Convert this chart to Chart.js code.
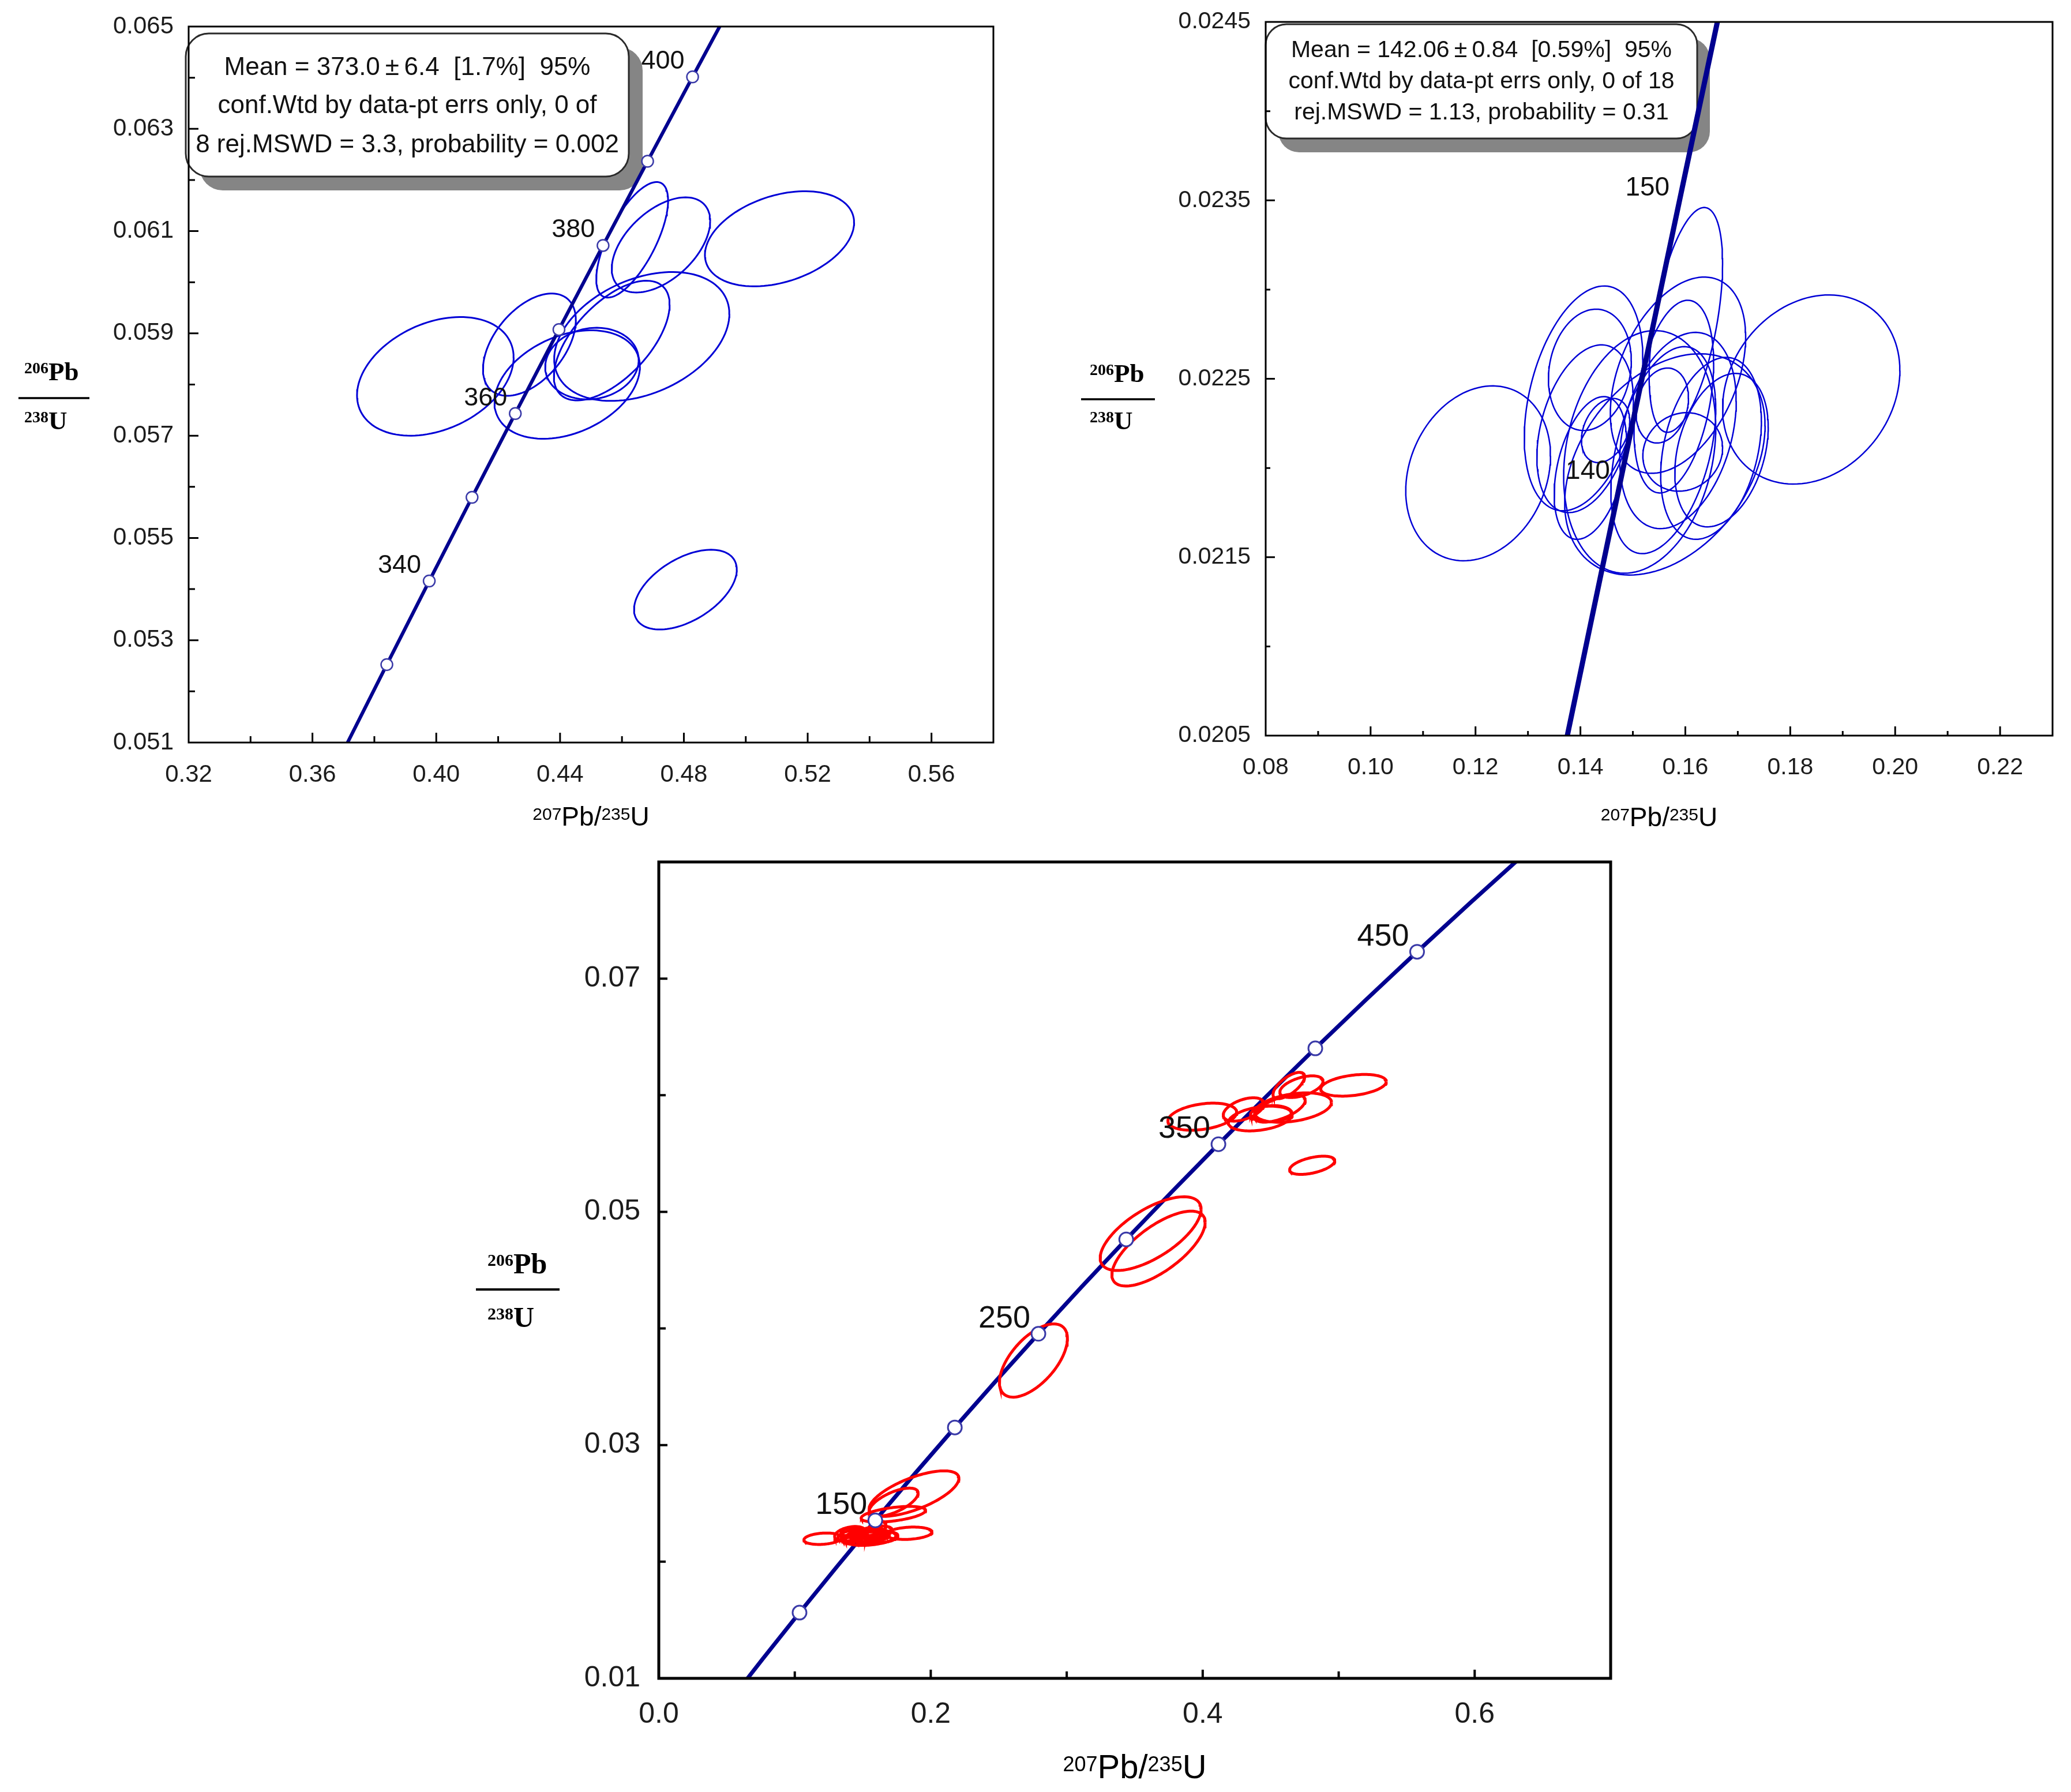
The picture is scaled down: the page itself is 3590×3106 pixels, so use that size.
<!DOCTYPE html>
<html>
<head>
<meta charset="utf-8">
<script src="https://cdn.jsdelivr.net/npm/chart.js@4.4.1/dist/chart.umd.min.js"></script>
<style>
  html, body { margin: 0; padding: 0; background: #fff; }
  body { width: 3590px; height: 3106px; position: relative; overflow: hidden; }
  canvas { position: absolute; }
</style>
</head>
<body>
<canvas id="cLeft"  width="1760" height="1460" style="left:0px;top:0px"></canvas>
<canvas id="cRight" width="1790" height="1460" style="left:1800px;top:0px"></canvas>
<canvas id="cAll"   width="2100" height="1646" style="left:800px;top:1460px"></canvas>
<script>
// decay constants (per year) used for the concordia curve
const L238 = 1.55125e-10, L235 = 9.8485e-10;

// --- upper left: 207Pb/235U, 206Pb/238U, half-widths and error correlation
const leftX   = [0.3997, 0.4301, 0.4423, 0.4503, 0.4567, 0.4664, 0.4633, 0.4726, 0.5109, 0.4805];
const leftY   = [0.05816, 0.05878, 0.05800, 0.05841, 0.05886, 0.05894, 0.06083, 0.06073, 0.06085, 0.05399];
const leftSx  = [0.0253, 0.0150, 0.0235, 0.0151, 0.0187, 0.0283, 0.0116, 0.0159, 0.0241, 0.0166];
const leftSy  = [0.00116, 0.00100, 0.00106, 0.00070, 0.00117, 0.00126, 0.00113, 0.00093, 0.00093, 0.00078];
const leftRho = [0.32, 0.48, 0.33, 0.10, 0.60, 0.35, 0.68, 0.50, 0.34, 0.50];
const leftLineAges  = [310, 320, 330, 340, 350, 360, 370, 380, 390, 400, 410, 420];
const leftMarkAges  = [330, 340, 350, 360, 370, 380, 390, 400];
const leftLabelAges = [340, 360, 380, 400];
const leftNote = ['Mean = 373.0\u2009\u00b1\u20096.4  [1.7%]  95%',
                  'conf.Wtd by data-pt errs only, 0 of',
                  '8 rej.MSWD = 3.3, probability = 0.002'];

// --- upper right
const rightX   = [0.1205, 0.1840, 0.1601, 0.1406, 0.1418, 0.1409, 0.1419, 0.1513, 0.1561,
                  0.1586, 0.1556, 0.1595, 0.1649, 0.1669, 0.1586, 0.1578, 0.1558, 0.1448];
const rightY   = [0.02197, 0.02244, 0.02283, 0.02239, 0.02255, 0.02222, 0.02200, 0.02209, 0.02202,
                  0.02252, 0.02235, 0.02209, 0.02211, 0.02210, 0.02221, 0.02240, 0.02210, 0.02221];
const rightSx  = [0.0138, 0.0169, 0.0070, 0.0113, 0.0079, 0.0092, 0.0069, 0.0145, 0.0191,
                  0.0129, 0.0050, 0.0076, 0.0096, 0.0089, 0.0111, 0.0076, 0.0100, 0.0046];
const rightSy  = [0.00049, 0.00053, 0.00063, 0.00063, 0.00034, 0.00047, 0.00040, 0.00068, 0.00062,
                  0.00055, 0.00021, 0.00022, 0.00051, 0.00043, 0.00055, 0.00054, 0.00058, 0.00018];
const rightRho = [0.20, 0.20, 0.50, 0.35, 0.15, 0.34, 0.37, 0.20, 0.35,
                  0.39, 0.20, 0.10, 0.30, 0.30, 0.30, 0.35, 0.40, 0.30];
const rightLineAges  = [125, 130, 135, 140, 145, 150, 155, 160];
const rightLabelAges = [140, 150];
const rightNote = ['Mean = 142.06\u2009\u00b1\u20090.84  [0.59%]  95%',
                   'conf.Wtd by data-pt errs only, 0 of 18',
                   'rej.MSWD = 1.13, probability = 0.31'];

// --- lower panel: all grains (the two sets above plus these)
const extraX   = [0.2755, 0.3617, 0.3675, 0.1877, 0.1727, 0.1725];
const extraY   = [0.03725, 0.04813, 0.04685, 0.02584, 0.02510, 0.02407];
const extraSx  = [0.0250, 0.0371, 0.0343, 0.0330, 0.0180, 0.0237];
const extraSy  = [0.00314, 0.00316, 0.00321, 0.00195, 0.00121, 0.00067];
const extraRho = [0.60, 0.66, 0.70, 0.67, 0.65, 0.50];
const allLineAges  = [50, 75, 100, 125, 150, 175, 200, 225, 250, 275, 300, 325, 350, 375, 400, 425, 450, 475, 500, 525];
const allMarkAges  = [100, 150, 200, 250, 300, 350, 400, 450];
const allLabelAges = [150, 250, 350, 450];

const SANS = "'Liberation Sans', Arial, sans-serif";
const SERIF = "'Liberation Serif', 'Times New Roman', serif";
Chart.defaults.font.family = SANS;

function concordia(age) {
  return { x: Math.exp(L235 * age * 1e6) - 1, y: Math.exp(L238 * age * 1e6) - 1 };
}

function ellipsePts(cx, cy, sx, sy, r) {
  const pts = [], n = 120, k = Math.sqrt(1 - r * r);
  for (let i = 0; i <= n; i++) {
    const a = i / n * 2 * Math.PI;
    pts.push({ x: cx + sx * Math.cos(a), y: cy + sy * (r * Math.cos(a) + k * Math.sin(a)) });
  }
  return pts;
}

function ellipseSets(xs, ys, sxs, sys, rhos, color, width, order) {
  return xs.map((cx, i) => ({
    data: ellipsePts(cx, ys[i], sxs[i], sys[i], rhos[i]),
    showLine: true, fill: false, tension: 0, pointRadius: 0,
    borderColor: color, borderWidth: width, clip: 0, order
  }));
}

function supText(ctx, parts, x, base, align) {
  // parts: [text, size, rise, family, weight]
  let w = 0;
  parts.forEach(p => { ctx.font = `${p[4] || ''} ${p[1]}px ${p[3]}`; w += ctx.measureText(p[0]).width; });
  let cx = align === 'center' ? x - w / 2 : x;
  ctx.textAlign = 'left'; ctx.textBaseline = 'alphabetic';
  parts.forEach(p => {
    ctx.font = `${p[4] || ''} ${p[1]}px ${p[3]}`;
    ctx.fillText(p[0], cx, base - p[2]);
    cx += ctx.measureText(p[0]).width;
  });
}

function roundRect(ctx, x, y, w, h, r) {
  ctx.beginPath();
  ctx.moveTo(x + r, y);
  ctx.arcTo(x + w, y, x + w, y + h, r);
  ctx.arcTo(x + w, y + h, x, y + h, r);
  ctx.arcTo(x, y + h, x, y, r);
  ctx.arcTo(x, y, x + w, y, r);
  ctx.closePath();
}

function makeChart(id, c) {
  const tickCb = (min, step, dec) => v => {
    const k = Math.round((v - min) / step);
    return k % 2 === 0 ? v.toFixed(dec) : '';
  };

  const deco = {
    id: 'deco_' + id,
    beforeDatasetsDraw(chart) {
      if (!c.note) return;
      const ctx = chart.ctx, b = c.note;
      ctx.save();
      ctx.fillStyle = '#858585';
      roundRect(ctx, b.x + b.sdx, b.y + b.sdy, b.w, b.h, b.r); ctx.fill();
      ctx.fillStyle = '#fff'; ctx.strokeStyle = '#2a2a2a'; ctx.lineWidth = 3;
      roundRect(ctx, b.x, b.y, b.w, b.h, b.r); ctx.fill(); ctx.stroke();
      ctx.fillStyle = '#111'; ctx.font = `${b.size}px ${SANS}`;
      ctx.textAlign = 'center'; ctx.textBaseline = 'alphabetic';
      b.lines.forEach((t, i) => ctx.fillText(t, b.x + b.w / 2, b.base[i]));
      ctx.restore();
    },
    afterDatasetsDraw(chart) {
      const ctx = chart.ctx, xs = chart.scales.x, ys = chart.scales.y, a = chart.chartArea;
      ctx.save();
      // age labels on the concordia
      ctx.fillStyle = '#111'; ctx.font = `${c.ageFont}px ${SANS}`;
      ctx.textAlign = 'right'; ctx.textBaseline = 'alphabetic';
      c.labelAges.forEach(t => {
        const p = concordia(t);
        ctx.fillText(String(t), xs.getPixelForValue(p.x) + c.ageDx, ys.getPixelForValue(p.y) + c.ageDy);
      });
      // frame and inward ticks
      ctx.strokeStyle = '#000'; ctx.lineWidth = c.frame;
      ctx.strokeRect(a.left, a.top, a.right - a.left, a.bottom - a.top);
      ctx.lineWidth = c.tickW;
      ctx.beginPath();
      xs.ticks.forEach(t => {
        const px = xs.getPixelForValue(t.value);
        if (px <= a.left + 1 || px >= a.right - 1) return;
        const len = t.label ? c.major : c.minor;
        ctx.moveTo(px, a.bottom); ctx.lineTo(px, a.bottom - len);
      });
      ys.ticks.forEach(t => {
        const py = ys.getPixelForValue(t.value);
        if (py <= a.top + 1 || py >= a.bottom - 1) return;
        const len = t.label ? c.major : c.minor;
        ctx.moveTo(a.left, py); ctx.lineTo(a.left + len, py);
      });
      ctx.stroke();
      ctx.restore();
    },
    afterDraw(chart) {
      const ctx = chart.ctx, a = chart.chartArea, f = c.frac, t = c.xt;
      ctx.save();
      ctx.fillStyle = '#000';
      // x axis title
      supText(ctx, [['207', t.sup, t.rise, SANS], ['Pb/', t.size, 0, SANS],
                    ['235', t.sup, t.rise, SANS], ['U', t.size, 0, SANS]],
              (a.left + a.right) / 2, t.base, 'center');
      // y axis title as a fraction
      supText(ctx, [['206', f.sup, f.rise, SERIF, 'bold'], ['Pb', f.size, 0, SERIF, 'bold']], f.x, f.top, 'left');
      ctx.fillRect(f.l0, f.ly - f.lw / 2, f.l1 - f.l0, f.lw);
      supText(ctx, [['238', f.sup, f.rise, SERIF, 'bold'], ['U', f.size, 0, SERIF, 'bold']], f.x, f.bot, 'left');
      ctx.restore();
    }
  };

  return new Chart(document.getElementById(id), {
    type: 'scatter',
    data: { datasets: c.datasets },
    options: {
      responsive: false, animation: false, devicePixelRatio: 1,
      layout: { padding: { left: 0, top: c.padTop, right: c.padRight, bottom: 0 } },
      plugins: { legend: { display: false }, tooltip: { enabled: false } },
      scales: {
        x: {
          type: 'linear', min: c.xMin, max: c.xMax,
          grid: { display: false, drawTicks: false }, border: { display: false },
          ticks: { stepSize: c.xStep, autoSkip: false, maxRotation: 0, padding: c.xPad, color: '#1c1c1c',
                   font: { size: c.tickFont }, callback: tickCb(c.xMin, c.xStep, c.xDec) },
          afterFit: s => { s.height = c.xH; }
        },
        y: {
          type: 'linear', min: c.yMin, max: c.yMax,
          grid: { display: false, drawTicks: false }, border: { display: false },
          ticks: { stepSize: c.yStep, autoSkip: false, padding: c.yPad, color: '#1c1c1c',
                   font: { size: c.tickFont, lineHeight: 0.02 }, callback: tickCb(c.yMin, c.yStep, c.yDec) },
          afterFit: s => { s.width = c.yW; }
        }
      }
    },
    plugins: [deco]
  });
}

const markStyle = { showLine: false, pointRadius: 10, pointBackgroundColor: '#fff',
                    pointBorderColor: '#3a3aa8', pointBorderWidth: 2.5, clip: 0 };

// upper left panel
makeChart('cLeft', {
  datasets: [
    Object.assign({ data: leftMarkAges.map(concordia), order: 0 }, markStyle),
    { data: leftLineAges.map(concordia), showLine: true, pointRadius: 0, borderColor: '#00008f',
      borderWidth: 6, tension: 0, clip: 0, order: 1 },
    ...ellipseSets(leftX, leftY, leftSx, leftSy, leftRho, '#0000d6', 3, 2)
  ],
  xMin: 0.32, xMax: 0.58, xStep: 0.02, xDec: 2,
  yMin: 0.051, yMax: 0.065, yStep: 0.001, yDec: 3,
  padTop: 46, padRight: 38, xH: 173, yW: 327, xPad: 31, yPad: 26, tickFont: 42,
  frame: 3, tickW: 3, major: 17, minor: 11,
  labelAges: leftLabelAges, ageFont: 45, ageDx: -14, ageDy: -14,
  note: { x: 322, y: 58, w: 768, h: 248, r: 40, sdx: 24, sdy: 24, size: 44,
          lines: leftNote, base: [130, 196, 264] },
  xt: { size: 46, sup: 30, rise: 10, base: 1431 },
  frac: { x: 42, top: 659, bot: 744, size: 45, sup: 28, rise: 12, l0: 32, l1: 155, ly: 690, lw: 3.5 }
});

// upper right panel
makeChart('cRight', {
  datasets: [
    { data: rightLineAges.map(concordia), showLine: true, pointRadius: 0, borderColor: '#00008f',
      borderWidth: 9, tension: 0, clip: 0, order: 1 },
    ...ellipseSets(rightX, rightY, rightSx, rightSy, rightRho, '#0000d6', 2.5, 2)
  ],
  xMin: 0.08, xMax: 0.23, xStep: 0.01, xDec: 2,
  yMin: 0.0205, yMax: 0.0245, yStep: 0.0005, yDec: 4,
  padTop: 38, padRight: 32, xH: 185, yW: 394, xPad: 31, yPad: 26, tickFont: 41,
  frame: 3, tickW: 3, major: 16, minor: 8,
  labelAges: rightLabelAges, ageFont: 46, ageDx: -20, ageDy: 5,
  note: { x: 394, y: 42, w: 748, h: 198, r: 36, sdx: 22, sdy: 24, size: 41,
          lines: rightNote, base: [99, 153, 207] },
  xt: { size: 46, sup: 30, rise: 10, base: 1432 },
  frac: { x: 89, top: 662, bot: 744, size: 45, sup: 28, rise: 12, l0: 74, l1: 202, ly: 692, lw: 3.5 }
});

// lower panel
makeChart('cAll', {
  datasets: [
    Object.assign({ data: allMarkAges.map(concordia), order: 0 }, markStyle,
                  { pointRadius: 12, pointBorderWidth: 3 }),
    ...ellipseSets(leftX, leftY, leftSx, leftSy, leftRho, '#ff0000', 5, 1),
    ...ellipseSets(rightX, rightY, rightSx, rightSy, rightRho, '#ff0000', 5, 1),
    ...ellipseSets(extraX, extraY, extraSx, extraSy, extraRho, '#ff0000', 5, 1),
    { data: allLineAges.map(concordia), showLine: true, pointRadius: 0, borderColor: '#00008f',
      borderWidth: 7, tension: 0, clip: 0, order: 2 }
  ],
  xMin: 0, xMax: 0.7, xStep: 0.1, xDec: 1,
  yMin: 0.01, yMax: 0.08, yStep: 0.01, yDec: 2,
  padTop: 34, padRight: 108, xH: 197, yW: 342, xPad: 33, yPad: 32, tickFont: 50,
  frame: 5, tickW: 4, major: 15, minor: 12,
  labelAges: allLabelAges, ageFont: 54, ageDx: -14, ageDy: -11,
  note: null,
  xt: { size: 58, sup: 36, rise: 12, base: 1622 },
  frac: { x: 45, top: 747, bot: 840, size: 50, sup: 30, rise: 13, l0: 25, l1: 170, ly: 775, lw: 4 }
});
</script>
</body>
</html>
